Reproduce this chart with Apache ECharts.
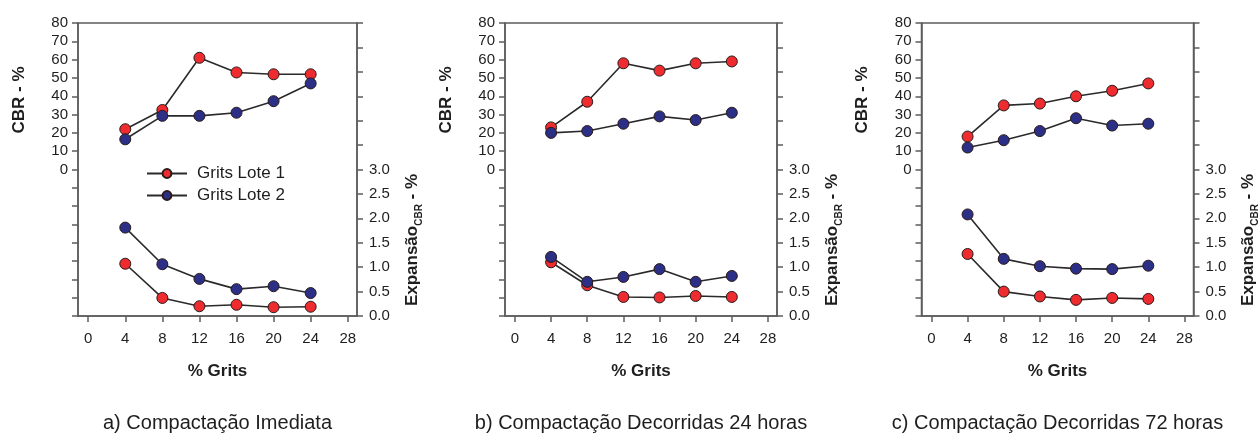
<!DOCTYPE html>
<html>
<head>
<meta charset="utf-8">
<script src="https://cdn.jsdelivr.net/npm/echarts@6/dist/echarts.min.js"></script>
<style>
  html, body { margin: 0; padding: 0; background: #ffffff; }
  #chart { width: 1258px; height: 434px; }
</style>
</head>
<body>
<div id="chart"></div>
<script>
// % Grits added to the soil (shared x values)
const grits = [4, 8, 12, 16, 20, 24];
const xTicks = [0, 4, 8, 12, 16, 20, 24, 28];

// a) Compactação Imediata
const cbrLote1A = [22, 32.5, 61, 53, 52, 52];
const cbrLote2A = [16.5, 29.3, 29.3, 31, 37.3, 47];
const expLote1A = [1.07, 0.37, 0.20, 0.23, 0.18, 0.19];
const expLote2A = [1.81, 1.06, 0.76, 0.55, 0.61, 0.47];

// b) Compactação Decorridas 24 horas
const cbrLote1B = [23, 37, 58, 54, 58, 59];
const cbrLote2B = [20, 21, 25, 29, 27, 31];
const expLote1B = [1.10, 0.63, 0.39, 0.38, 0.41, 0.39];
const expLote2B = [1.21, 0.70, 0.80, 0.96, 0.70, 0.82];

// c) Compactação Decorridas 72 horas
const cbrLote1C = [18, 35, 36, 40, 43, 47];
const cbrLote2C = [12, 16, 21, 28, 24, 25];
const expLote1C = [1.27, 0.50, 0.40, 0.33, 0.37, 0.35];
const expLote2C = [2.08, 1.17, 1.02, 0.97, 0.96, 1.03];

const seriesNames = ['Grits Lote 1', 'Grits Lote 2'];
const captions = [
  'a) Compactação Imediata',
  'b) Compactação Decorridas 24 horas',
  'c) Compactação Decorridas 72 horas'
];
const panels = [
  { cbr: [cbrLote1A, cbrLote2A], exp: [expLote1A, expLote2A] },
  { cbr: [cbrLote1B, cbrLote2B], exp: [expLote1B, expLote2B] },
  { cbr: [cbrLote1C, cbrLote2C], exp: [expLote1C, expLote2C] }
];

const FONT = '"Liberation Sans", Arial, Helvetica, sans-serif';
const AXIS_COLOR = '#5c5c5c';
const TEXT_COLOR = '#1e1e1e';
const fills = ['#ee2b2f', '#2c2f86'];

// plot boxes (left, width) – all share top and height
const boxes = [
  { left: 78, width: 279 },
  { left: 505, width: 272 },
  { left: 921.5, width: 272 }
];
const TOP = 23, HEIGHT = 293;

const pairs = (vals) => grits.map((g, i) => [g, vals[i]]);

const grid = [], xAxis = [], yAxis = [], series = [], graphic = [];

boxes.forEach((b, p) => {
  grid.push({
    left: b.left, top: TOP, width: b.width, height: HEIGHT,
    show: true, borderColor: AXIS_COLOR, borderWidth: 1.5,
    backgroundColor: 'transparent', containLabel: false
  });

  xAxis.push({
    type: 'value', gridIndex: p, min: -1.1, max: 29,
    splitLine: { show: false },
    axisLine: { show: true, onZero: false, lineStyle: { color: AXIS_COLOR, width: 1.5 } },
    axisTick: { show: true, inside: false, length: 6, customValues: xTicks,
                lineStyle: { color: AXIS_COLOR, width: 1.5 } },
    axisLabel: { show: true, customValues: xTicks, margin: 15,
                 fontSize: 15, fontFamily: FONT, color: TEXT_COLOR }
  });

  // CBR axis: spans -80..80, labelled only for 0..80
  yAxis.push({
    type: 'value', gridIndex: p, position: 'left', min: -80, max: 80, interval: 10,
    splitLine: { show: false },
    axisLine: { show: true, onZero: false, lineStyle: { color: AXIS_COLOR, width: 1.5 } },
    axisTick: { show: true, length: 6, lineStyle: { color: AXIS_COLOR, width: 1.5 } },
    axisLabel: { fontSize: 15, fontFamily: FONT, color: TEXT_COLOR, margin: 10,
                 formatter: (v) => (v >= 0 ? String(v) : '') }
  });

  // Expansão axis: spans 0..6, labelled only for 0..3
  yAxis.push({
    type: 'value', gridIndex: p, position: 'right', min: 0, max: 6, interval: 0.5,
    splitLine: { show: false },
    axisLine: { show: true, onZero: false, lineStyle: { color: AXIS_COLOR, width: 1.5 } },
    axisTick: { show: true, length: 6, lineStyle: { color: AXIS_COLOR, width: 1.5 } },
    axisLabel: { fontSize: 15, fontFamily: FONT, color: TEXT_COLOR, margin: 12,
                 formatter: (v) => (v <= 3.0001 ? v.toFixed(1) : '') }
  });

  const data = panels[p];
  [['cbr', 2 * p], ['exp', 2 * p + 1]].forEach(([key, yIdx]) => {
    data[key].forEach((vals, s) => {
      series.push({
        type: 'line', name: seriesNames[s],
        xAxisIndex: p, yAxisIndex: yIdx,
        data: pairs(vals),
        symbol: 'circle', symbolSize: 11,
        lineStyle: { color: '#2a2a2a', width: 1.6 },
        itemStyle: { color: fills[s], borderColor: '#2a1a1a', borderWidth: 1 },
        emphasis: { disabled: true },
        animation: false, z: 2 + s
      });
    });
  });

  const cx = b.left + b.width / 2;
  const right = b.left + b.width;

  graphic.push({
    type: 'text', x: b.left - 59, y: 100, rotation: Math.PI / 2,
    style: { text: 'CBR - %', align: 'center', verticalAlign: 'middle',
             font: 'bold 17px ' + FONT, fill: TEXT_COLOR }
  });
  graphic.push({
    type: 'text', x: right + 55, y: 240, rotation: Math.PI / 2,
    style: {
      text: '{m|Expansão}{s|CBR}{m| - %}',
      align: 'center', verticalAlign: 'middle',
      rich: {
        m: { fontSize: 17, fontWeight: 'bold', fontFamily: FONT, fill: TEXT_COLOR,
             lineHeight: 24, verticalAlign: 'middle' },
        s: { fontSize: 10, fontWeight: 'bold', fontFamily: FONT, fill: TEXT_COLOR,
             lineHeight: 10, verticalAlign: 'bottom' }
      }
    }
  });
  graphic.push({
    type: 'text', x: cx, y: 371,
    style: { text: '% Grits', align: 'center', verticalAlign: 'middle',
             font: 'bold 17px ' + FONT, fill: TEXT_COLOR }
  });
  graphic.push({
    type: 'text', x: cx, y: 423,
    style: { text: captions[p], align: 'center', verticalAlign: 'middle',
             font: '20px ' + FONT, fill: TEXT_COLOR }
  });
});

const chart = echarts.init(document.getElementById('chart'), null, { renderer: 'canvas' });
chart.setOption({
  backgroundColor: '#ffffff',
  animation: false,
  textStyle: { fontFamily: FONT },
  legend: {
    data: seriesNames,
    orient: 'vertical',
    left: 141, top: 160,
    itemWidth: 40, itemHeight: 11, itemGap: 5,
    selectedMode: false,
    textStyle: { fontSize: 17, fontFamily: FONT, color: TEXT_COLOR, padding: [0, 0, 0, 5] }
  },
  grid, xAxis, yAxis, series, graphic
});
</script>
</body>
</html>
